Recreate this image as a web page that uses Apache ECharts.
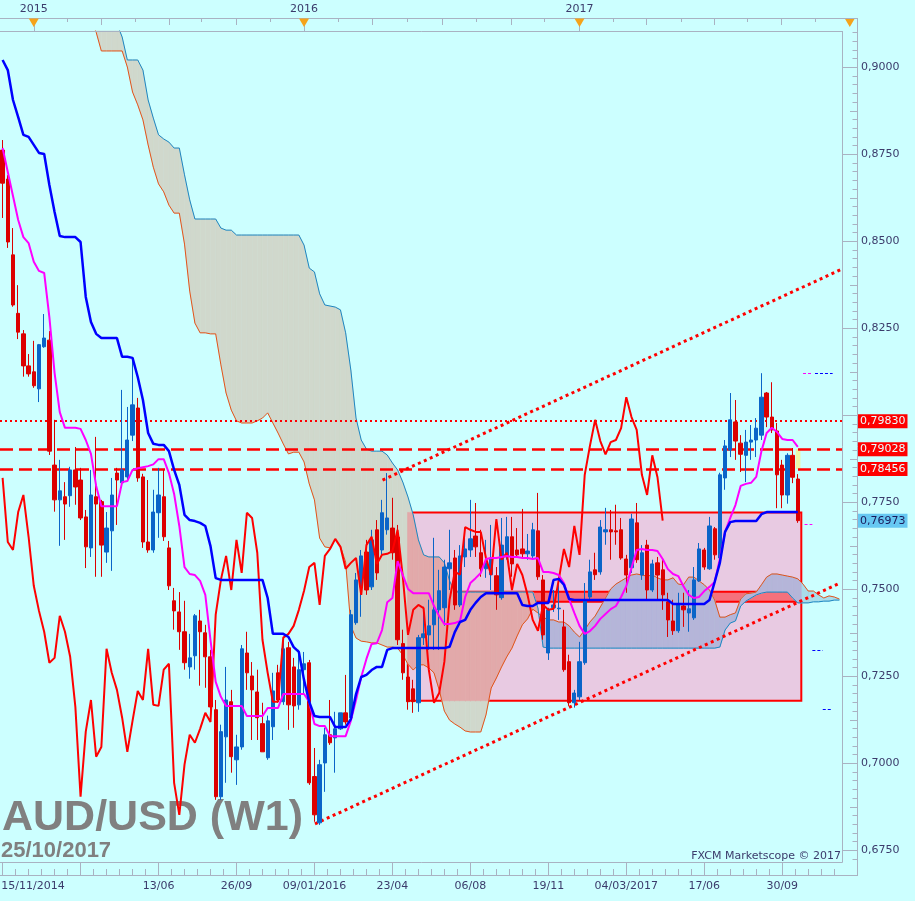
<!DOCTYPE html>
<html>
<head>
<meta charset="utf-8">
<title>AUD/USD (W1)</title>
<script src="https://cdn.jsdelivr.net/npm/echarts@6.0.0/dist/echarts.min.js"></script>
<style>
  html, body { margin: 0; padding: 0; background: #ccffff; }
  #chart { width: 915px; height: 901px; }
</style>
</head>
<body>
<div id="chart"></div>
<script>
// weekly AUD/USD bars, bar 0 = week of 15/11/2014, last bar = week of 21/10/2017
var open = [
  0.8762,0.8679,0.8461,0.8293,0.8234,0.8142,0.8125,0.8076,0.8197,0.8216,
  0.7857,0.7757,0.7766,0.7769,0.7843,0.7814,0.7708,0.7619,0.7766,0.7752,
  0.7607,0.7668,0.7834,0.7806,0.7823,0.7943,0.8021,0.7823,0.7636,0.7613,
  0.7720,0.7766,0.7619,0.7467,0.7435,0.7378,0.7277,0.7309,0.7409,0.7375,
  0.7306,0.7154,0.6904,0.7076,0.7177,0.7010,0.7047,0.7317,0.7251,0.7205,
  0.7114,0.7016,0.7105,0.7260,0.7177,0.7332,0.7277,0.7168,0.7269,0.7289,
  0.6962,0.6829,0.7001,0.7082,0.7073,0.7099,0.7145,0.7131,0.7404,0.7507,
  0.7607,0.7507,0.7671,0.7613,0.7671,0.7676,0.7650,0.7344,0.7248,0.7214,
  0.7174,0.7361,0.7369,0.7398,0.7441,0.7447,0.7559,0.7590,0.7455,0.7593,
  0.7613,0.7653,0.7605,0.7559,0.7542,0.7539,0.7476,0.7593,0.7651,0.7613,
  0.7616,0.7602,0.7596,0.7668,0.7527,0.7317,0.7447,0.7444,0.7392,0.7292,
  0.7174,0.7191,0.7289,0.7478,0.7556,0.7550,0.7665,0.7671,0.7668,0.7671,
  0.7587,0.7562,0.7691,0.7541,0.7627,0.7498,0.7576,0.7556,0.7464,0.7409,
  0.7381,0.7452,0.7432,0.7418,0.7524,0.7613,0.7559,0.7674,0.7590,0.7820,
  0.7900,0.7981,0.7920,0.7885,0.7923,0.7929,0.7943,0.8064,0.7995,0.7955,
  0.7857,0.7771,0.7885,0.7817
];
var high = [
  0.8791,0.8690,0.8538,0.8374,0.8245,0.8176,0.8214,0.8205,0.8291,0.8242,
  0.7987,0.7872,0.7808,0.7852,0.7909,0.7849,0.7728,0.7843,0.7938,0.7757,
  0.7722,0.7820,0.7849,0.8073,0.8024,0.8165,0.8050,0.7832,0.7814,0.7786,
  0.7849,0.7843,0.7639,0.7504,0.7492,0.7467,0.7372,0.7429,0.7441,0.7398,
  0.7326,0.7182,0.7111,0.7277,0.7211,0.7082,0.7340,0.7378,0.7291,0.7269,
  0.7174,0.7137,0.7260,0.7283,0.7355,0.7349,0.7303,0.7326,0.7320,0.7297,
  0.7044,0.7010,0.7102,0.7182,0.7148,0.7145,0.7254,0.7441,0.7547,0.7613,
  0.7642,0.7671,0.7699,0.7757,0.7834,0.7763,0.7685,0.7384,0.7283,0.7240,
  0.7369,0.7450,0.7470,0.7648,0.7556,0.7585,0.7671,0.7613,0.7627,0.7676,
  0.7757,0.7748,0.7671,0.7642,0.7685,0.7564,0.7705,0.7708,0.7708,0.7676,
  0.7731,0.7659,0.7691,0.7777,0.7541,0.7447,0.7498,0.7527,0.7441,0.7312,
  0.7211,0.7349,0.7518,0.7585,0.7605,0.7699,0.7734,0.7728,0.7743,0.7705,
  0.7599,0.7717,0.7748,0.7627,0.7642,0.7585,0.7593,0.7587,0.7490,0.7470,
  0.7490,0.7490,0.7498,0.7564,0.7633,0.7619,0.7708,0.7679,0.7835,0.7929,
  0.8064,0.8044,0.7943,0.7958,0.7972,0.7992,0.8121,0.8067,0.8095,0.7978,
  0.7872,0.7891,0.7906,0.7831
];
var low = [
  0.8567,0.8481,0.8312,0.8219,0.8111,0.8111,0.8079,0.8038,0.8194,0.7886,
  0.7723,0.7625,0.7642,0.7737,0.7743,0.7699,0.7561,0.7593,0.7536,0.7536,
  0.7576,0.7553,0.7685,0.7792,0.7814,0.7926,0.7809,0.7619,0.7605,0.7605,
  0.7648,0.7639,0.7498,0.7384,0.7326,0.7269,0.7243,0.7269,0.7223,0.7217,
  0.7148,0.6895,0.6895,0.6944,0.6973,0.6938,0.7039,0.7211,0.7067,0.7067,
  0.7033,0.7010,0.7067,0.7174,0.7168,0.7096,0.7102,0.7154,0.7202,0.6938,
  0.6832,0.6823,0.6918,0.7053,0.6973,0.7096,0.7111,0.7119,0.7398,0.7421,
  0.7484,0.7498,0.7527,0.7599,0.7657,0.7585,0.7340,0.7240,0.7154,0.7145,
  0.7148,0.7340,0.7326,0.7326,0.7326,0.7395,0.7498,0.7441,0.7449,0.7564,
  0.7593,0.7593,0.7536,0.7533,0.7498,0.7441,0.7470,0.7585,0.7536,0.7593,
  0.7590,0.7585,0.7590,0.7527,0.7355,0.7297,0.7435,0.7412,0.7263,0.7165,
  0.7160,0.7182,0.7283,0.7470,0.7527,0.7542,0.7628,0.7585,0.7628,0.7585,
  0.7490,0.7547,0.7576,0.7527,0.7470,0.7492,0.7470,0.7441,0.7363,0.7369,
  0.7375,0.7392,0.7378,0.7412,0.7521,0.7556,0.7556,0.7585,0.7585,0.7786,
  0.7880,0.7872,0.7837,0.7808,0.7872,0.7880,0.7929,0.7966,0.7949,0.7733,
  0.7733,0.7746,0.7805,0.7691
];
var close = [
  0.8667,0.8498,0.8317,0.8239,0.8142,0.8119,0.8085,0.8203,0.8222,0.7897,
  0.7757,0.7783,0.7745,0.7843,0.7794,0.7705,0.7622,0.7771,0.7745,0.7627,
  0.7676,0.7771,0.7814,0.7843,0.7929,0.8030,0.7820,0.7636,0.7613,0.7722,
  0.7771,0.7651,0.7510,0.7438,0.7378,0.7289,0.7303,0.7424,0.7378,0.7306,
  0.7162,0.6904,0.7091,0.7182,0.7019,0.7047,0.7329,0.7260,0.7211,0.7131,
  0.7033,0.7122,0.7208,0.7182,0.7329,0.7168,0.7165,0.7269,0.7286,0.6944,
  0.6852,0.6996,0.7082,0.7059,0.7099,0.7145,0.7119,0.7427,0.7527,0.7596,
  0.7498,0.7642,0.7547,0.7720,0.7705,0.7605,0.7355,0.7260,0.7177,0.7177,
  0.7361,0.7372,0.7395,0.7441,0.7496,0.7564,0.7576,0.7455,0.7596,0.7616,
  0.7645,0.7622,0.7559,0.7576,0.7590,0.7484,0.7627,0.7651,0.7573,0.7599,
  0.7602,0.7610,0.7671,0.7536,0.7369,0.7441,0.7455,0.7446,0.7269,0.7174,
  0.7202,0.7292,0.7470,0.7550,0.7542,0.7679,0.7671,0.7665,0.7665,0.7590,
  0.7541,0.7702,0.7585,0.7605,0.7498,0.7573,0.7541,0.7484,0.7412,0.7381,
  0.7455,0.7441,0.7444,0.7527,0.7616,0.7564,0.7682,0.7599,0.7829,0.7912,
  0.7987,0.7926,0.7888,0.7923,0.7929,0.7963,0.8052,0.7995,0.7958,0.7829,
  0.7771,0.7885,0.7822,0.76973
];

// ichimoku lines as drawn on the chart
var tenkan = [
  0.8768,0.8699,0.8630,0.8561,0.8512,0.8495,0.8441,0.8415,0.8409,0.8282,
  0.8122,0.8009,0.7964,0.7964,0.7964,0.7961,0.7929,0.7889,0.7797,0.7739,
  0.7739,0.7739,0.7739,0.7808,0.7811,0.7843,0.7848,0.7851,0.7854,0.7859,
  0.7874,0.7874,0.7834,0.7774,0.7682,0.7564,0.7544,0.7541,0.7524,0.7484,
  0.7354,0.7234,0.7191,0.7165,0.7165,0.7165,0.7165,0.7136,0.7136,0.7136,
  0.7136,0.7159,0.7159,0.7159,0.7199,0.7199,0.7199,0.7199,0.7199,0.7176,
  0.7113,0.7107,0.7107,0.7078,0.7078,0.7078,0.7078,0.7122,0.7182,0.7248,
  0.7300,0.7343,0.7345,0.7383,0.7463,0.7475,0.7581,0.7541,0.7501,0.7489,
  0.7489,0.7489,0.7489,0.7452,0.7423,0.7400,0.7400,0.7403,0.7409,0.7478,
  0.7518,0.7532,0.7547,0.7587,0.7590,0.7590,0.7593,0.7596,0.7593,0.7593,
  0.7590,0.7590,0.7587,0.7590,0.7550,0.7550,0.7547,0.7541,0.7518,0.7472,
  0.7432,0.7395,0.7372,0.7380,0.7395,0.7415,0.7429,0.7443,0.7452,0.7478,
  0.7509,0.7561,0.7613,0.7616,0.7613,0.7613,0.7610,0.7587,0.7558,0.7544,
  0.7538,0.7509,0.7484,0.7475,0.7478,0.7495,0.7507,0.7521,0.7587,0.7665,
  0.7705,0.7742,0.7797,0.7803,0.7806,0.7823,0.7897,0.7949,0.7964,0.7952,
  0.7932,0.7929,0.7929,0.7909
];
var kijun = [
  0.9021,0.8992,0.8906,0.8857,0.8806,0.8800,0.8777,0.8754,0.8751,0.8662,
  0.8584,0.8515,0.8512,0.8512,0.8512,0.8498,0.8340,0.8268,0.8234,0.8222,
  0.8222,0.8222,0.8222,0.8168,0.8168,0.8165,0.8110,0.8044,0.7949,0.7918,
  0.7915,0.7915,0.7897,0.7843,0.7800,0.7714,0.7699,0.7696,0.7691,0.7682,
  0.7624,0.7532,0.7527,0.7527,0.7527,0.7527,0.7527,0.7527,0.7527,0.7527,
  0.7527,0.7475,0.7372,0.7372,0.7372,0.7363,0.7334,0.7320,0.7239,0.7176,
  0.7136,0.7133,0.7133,0.7133,0.7104,0.7104,0.7104,0.7127,0.7199,0.7248,
  0.7254,0.7268,0.7277,0.7277,0.7326,0.7331,0.7331,0.7331,0.7331,0.7331,
  0.7331,0.7331,0.7331,0.7331,0.7331,0.7331,0.7335,0.7377,0.7406,0.7412,
  0.7441,0.7461,0.7478,0.7489,0.7489,0.7489,0.7489,0.7489,0.7489,0.7489,
  0.7455,0.7452,0.7452,0.7461,0.7461,0.7461,0.7527,0.7530,0.7513,0.7472,
  0.7469,0.7469,0.7469,0.7469,0.7469,0.7469,0.7469,0.7469,0.7469,0.7469,
  0.7469,0.7469,0.7469,0.7469,0.7469,0.7469,0.7469,0.7469,0.7469,0.7458,
  0.7458,0.7458,0.7458,0.7458,0.7458,0.7458,0.7469,0.7521,0.7576,0.7665,
  0.7693,0.7696,0.7696,0.7696,0.7696,0.7696,0.7716,0.7722,0.7722,0.7722,
  0.7722,0.7722,0.7722,0.7722
];
// senkou spans start at bar 17 and run 8 weeks past the last bar (first values sit above the frame)
var spanStart = 17;
var spanA = [
  0.9135,0.9101,0.9047,0.9047,0.9047,0.9047,0.9047,0.9001,0.8929,0.8892,
  0.8849,0.8777,0.8713,0.8665,0.8642,0.8604,0.8581,0.8581,0.8492,0.8357,
  0.8265,0.8237,0.8237,0.8234,0.8234,0.8145,0.8064,0.8015,0.7984,0.7978,
  0.7978,0.7978,0.7984,0.7992,0.8007,0.7978,0.7949,0.7918,0.7889,0.7894,
  0.7894,0.7866,0.7803,0.7757,0.7647,0.7622,0.7619,0.7642,0.7624,0.7578,
  0.7395,0.7360,0.7351,0.7349,0.7346,0.7346,0.7340,0.7334,0.7334,0.7331,
  0.7311,0.7285,0.7268,0.7283,0.7283,0.7274,0.7260,0.7211,0.7150,0.7124,
  0.7113,0.7104,0.7093,0.7090,0.7090,0.7090,0.7139,0.7216,0.7245,0.7277,
  0.7306,0.7331,0.7366,0.7398,0.7415,0.7443,0.7432,0.7420,0.7412,0.7412,
  0.7406,0.7406,0.7395,0.7377,0.7363,0.7383,0.7406,0.7423,0.7449,0.7475,
  0.7501,0.7515,0.7524,0.7533,0.7541,0.7544,0.7541,0.7538,0.7541,0.7533,
  0.7527,0.7527,0.7533,0.7515,0.7513,0.7535,0.7535,0.7524,0.7513,0.7498,
  0.7469,0.7420,0.7420,0.7427,0.7432,0.7472,0.7487,0.7489,0.7492,0.7513,
  0.7535,0.7544,0.7544,0.7541,0.7538,0.7535,0.7530,0.7515,0.7495,0.7495,
  0.7484,0.7475,0.7481,0.7478,0.7472
];
var spanB = [
  0.9300,0.9260,0.9220,0.9190,0.9160,0.9125,0.9087,0.9021,0.9021,0.9021,
  0.8992,0.8906,0.8854,0.8806,0.8794,0.8785,0.8768,0.8768,0.8691,0.8619,
  0.8564,0.8564,0.8564,0.8564,0.8564,0.8538,0.8532,0.8532,0.8518,0.8518,
  0.8518,0.8518,0.8518,0.8518,0.8518,0.8518,0.8518,0.8518,0.8518,0.8518,
  0.8518,0.8489,0.8423,0.8412,0.8349,0.8317,0.8314,0.8311,0.8303,0.8237,
  0.8130,0.7992,0.7929,0.7903,0.7897,0.7897,0.7897,0.7886,0.7863,0.7843,
  0.7808,0.7765,0.7714,0.7642,0.7599,0.7593,0.7593,0.7593,0.7576,0.7524,
  0.7492,0.7492,0.7492,0.7492,0.7492,0.7492,0.7492,0.7492,0.7492,0.7492,
  0.7492,0.7492,0.7492,0.7492,0.7492,0.7492,0.7446,0.7334,0.7331,0.7331,
  0.7331,0.7331,0.7331,0.7331,0.7331,0.7331,0.7331,0.7331,0.7331,0.7331,
  0.7331,0.7331,0.7331,0.7331,0.7331,0.7331,0.7331,0.7331,0.7331,0.7331,
  0.7331,0.7331,0.7331,0.7331,0.7331,0.7331,0.7331,0.7331,0.7331,0.7331,
  0.7331,0.7334,0.7383,0.7403,0.7409,0.7452,0.7466,0.7475,0.7484,0.7489,
  0.7492,0.7492,0.7492,0.7492,0.7492,0.7475,0.7461,0.7461,0.7461,0.7464,
  0.7464,0.7466,0.7466,0.7469,0.7469
];
var chikouShift = 26;
var futureWeeks = 8;

// drawn levels and annotations (x in bar index, y in price)
var levels = [0.79830, 0.79028, 0.78456];
var channelUp = [[73.1, 0.7814], [161.2, 0.8418]];
var channelDown = [[60.1, 0.6826], [160.7, 0.7515]];
var zoneX = [77.96, 153.67], zoneY = [0.7721, 0.7180];
var bandX = [77.96, 154.9], bandY = [0.7493, 0.7464];
var barMarkX = [152.6, 153.5], barMarkY = [0.7903, 0.7846];
var projMagenta = [[154.0, 155.9, 0.8122], [154.3, 155.8, 0.7686]];
var projBlue = [[156.3, 159.7, 0.8122], [155.8, 157.8, 0.7326], [157.8, 159.7, 0.7156]];

// axis ticks and labels (the 0,8000 label sits under the level tag, so only its tick is drawn)
var priceTicks = [0.675, 0.700, 0.725, 0.750, 0.775, 0.800, 0.825, 0.850, 0.875, 0.900];
var priceLabels = [0.675, 0.700, 0.725, 0.750, 0.775, 0.825, 0.850, 0.875, 0.900];
var dateTicks = [0, 15, 30, 45, 60, 75, 90, 105, 120, 135, 150];
var dateLabelPos = [5.85, 30, 45, 60, 75, 90, 105, 120, 135, 150];
var dateLabels = ['15/11/2014', '13/06', '26/09', '09/01/2016', '23/04', '06/08', '19/11', '04/03/2017', '17/06', '30/09'];
var yearPos = [6.0, 58.0, 111.0, 163.0];
var yearLabels = ['2015', '2016', '2017'];
var quarterPos = [19.0, 32.0, 44.9, 71.2, 84.5, 97.8, 123.9, 137.0, 149.9];
var eighthPos = [12.4, 25.5, 38.3, 51.4, 64.5, 77.8, 91.2, 104.3, 117.4, 130.5, 143.3, 156.4];

var yMin = 0.67164, yMax = 0.91043;
var nCat = close.length + futureWeeks;
var xMin = -0.5, xMax = nCat - 0.5;
var frame = '#a9b2c2', ink = '#3b3b6b', font = 'DejaVu Sans';

function pad(n) { return n < 10 ? '0' + n : '' + n; }
function comma(v, d) { return v.toFixed(d).replace('.', ','); }
function nearest(arr, v) {
  var b = 0;
  for (var k = 1; k < arr.length; k++) if (Math.abs(arr[k] - v) < Math.abs(arr[b] - v)) b = k;
  return b;
}

var weeks = [];
for (var k = 0; k < nCat; k++) {
  var d = new Date(Date.UTC(2014, 10, 15) + k * 7 * 864e5);
  weeks.push(pad(d.getUTCDate()) + '/' + pad(d.getUTCMonth() + 1) + '/' + d.getUTCFullYear());
}
var candles = open.map(function (o, k) { return [o, close[k], low[k], high[k]]; });

function spanLine(arr) {
  var out = [];
  for (var k = 0; k < nCat; k++) {
    var j = k - spanStart;
    out.push(j >= 0 && j < arr.length ? arr[j] : null);
  }
  return out;
}
var cloudSegs = [];
for (var k = 0; k + 1 < spanA.length; k++) {
  cloudSegs.push([spanStart + k, spanA[k], spanB[k], spanA[k + 1], spanB[k + 1]]);
}

var halfTicks = [], minorTicks = [];
for (var k = 269; k <= 364; k++) {
  if (k % 10 === 0) continue;
  (k % 5 === 0 ? halfTicks : minorTicks).push(+(k * 0.0025).toFixed(4));
}
var dateMinor = [];
for (var t = 2.5; t < 161; t += 2.5) if (t % 15 !== 0) dateMinor.push(t);

// polygon clip against an axis aligned rect
function clipPoly(pts, r) {
  var out = pts;
  [[0, r.x0, 1], [0, r.x1, -1], [1, r.y0, 1], [1, r.y1, -1]].forEach(function (e) {
    var ax = e[0], lim = e[1], s = e[2], inp = out;
    out = [];
    for (var j = 0; j < inp.length; j++) {
      var p = inp[j], q = inp[(j + 1) % inp.length];
      var pin = (p[ax] - lim) * s >= 0, qin = (q[ax] - lim) * s >= 0;
      if (pin) out.push(p);
      if (pin !== qin) {
        var f = (lim - p[ax]) / (q[ax] - p[ax]);
        out.push([p[0] + (q[0] - p[0]) * f, p[1] + (q[1] - p[1]) * f]);
      }
    }
  });
  return out;
}
function gridClip(params) {
  var c = params.coordSys;
  return { x0: c.x, y0: c.y, x1: c.x + c.width, y1: c.y + c.height };
}
function zoneClip(params, api) {
  var p0 = api.coord([zoneX[0], zoneY[0]]), p1 = api.coord([zoneX[1], zoneY[1]]);
  return { x0: Math.min(p0[0], p1[0]), y0: Math.min(p0[1], p1[1]), x1: Math.max(p0[0], p1[0]), y1: Math.max(p0[1], p1[1]) };
}
function cloudRenderer(colUp, colDown, clipFn) {
  return function (params, api) {
    var i = api.value(0), a0 = api.value(1), b0 = api.value(2), a1 = api.value(3), b1 = api.value(4);
    var pa0 = api.coord([i, a0]), pb0 = api.coord([i, b0]);
    var pa1 = api.coord([i + 1, a1]), pb1 = api.coord([i + 1, b1]);
    var d0 = a0 - b0, d1 = a1 - b1, polys = [];
    if (d0 * d1 >= 0) {
      polys.push({ pts: [pa0, pa1, pb1, pb0], up: d0 + d1 > 0 });
    } else {
      var f = d0 / (d0 - d1);
      var px = [pa0[0] + (pa1[0] - pa0[0]) * f, pa0[1] + (pa1[1] - pa0[1]) * f];
      polys.push({ pts: [pa0, px, pb0], up: d0 > 0 });
      polys.push({ pts: [px, pa1, pb1], up: d1 > 0 });
    }
    var r = clipFn(params, api), children = [];
    polys.forEach(function (p) {
      var c = clipPoly(p.pts, r);
      if (c.length > 2) {
        var col = p.up ? colUp : colDown;
        children.push({ type: 'polygon', shape: { points: c }, style: { fill: col, stroke: col, lineWidth: 0.6 } });
      }
    });
    return { type: 'group', children: children };
  };
}

function tag(v, bg, fg) {
  return {
    show: true, position: 'end', distance: 16, formatter: comma(v, 5),
    backgroundColor: bg, color: fg, padding: [2, 2, 1, 2],
    fontFamily: font, fontSize: 11
  };
}
var lastClose = close[close.length - 1];
var markLines = [
  { yAxis: levels[0], lineStyle: { type: [2, 3], width: 2 }, label: tag(levels[0], '#ff0000', '#e8ffff') },
  { yAxis: levels[1], lineStyle: { type: [13, 6], width: 2.5 }, label: tag(levels[1], '#ff0000', '#e8ffff') },
  { yAxis: levels[2], lineStyle: { type: [13, 6], width: 2.5 }, label: tag(levels[2], '#ff0000', '#e8ffff') },
  { yAxis: lastClose, lineStyle: { color: 'rgba(0,0,0,0)', width: 1 }, label: tag(lastClose, '#66c8f2', '#1a1a5a') },
  [{ coord: channelUp[0], lineStyle: { type: [3, 3.5], width: 3 } }, { coord: channelUp[1] }],
  [{ coord: channelDown[0], lineStyle: { type: [3, 3.5], width: 3 } }, { coord: channelDown[1] }]
];
projMagenta.forEach(function (p) {
  markLines.push([{ coord: [p[0], p[2]], lineStyle: { color: '#ff00ff', type: [3, 2], width: 1 } }, { coord: [p[1], p[2]] }]);
});
projBlue.forEach(function (p) {
  markLines.push([{ coord: [p[0], p[2]], lineStyle: { color: '#0000ff', type: [3, 2], width: 1 } }, { coord: [p[1], p[2]] }]);
});

function xValueAxis(pos, tickVals, len, labels) {
  return {
    type: 'value', min: xMin, max: xMax, position: pos, offset: 13,
    axisLine: { show: !!labels, onZero: false, lineStyle: { color: frame, width: 1 } },
    axisTick: { show: true, inside: true, length: len, customValues: tickVals, lineStyle: { color: frame, width: 1 } },
    axisLabel: labels || { show: false },
    splitLine: { show: false }
  };
}
function yValueAxis(tickVals, len, labels) {
  return {
    type: 'value', min: yMin, max: yMax, position: 'right', offset: 15,
    axisLine: { show: !!labels, onZero: false, lineStyle: { color: frame, width: 1 } },
    axisTick: { show: true, inside: true, length: len, customValues: tickVals, lineStyle: { color: frame, width: 1 } },
    axisLabel: labels || { show: false },
    splitLine: { show: false }
  };
}
function plainLine(name, data, color, width, z) {
  return {
    name: name, type: 'line', xAxisIndex: 0, yAxisIndex: 0, data: data, z: z,
    symbol: 'none', showSymbol: false, silent: true, connectNulls: false,
    lineStyle: { color: color, width: width }
  };
}

var chart = echarts.init(document.getElementById('chart'), null, { width: 915, height: 901 });
chart.setOption({
  animation: false,
  backgroundColor: '#ccffff',
  grid: { left: 0, top: 31, width: 842, height: 831, containLabel: false, outerBoundsMode: 'none' },
  xAxis: [
    { type: 'category', data: weeks, boundaryGap: true, show: false },
    xValueAxis('bottom', dateTicks, 13, {
      customValues: dateLabelPos, margin: 6, color: ink, fontFamily: font, fontSize: 11,
      formatter: function (v) { return dateLabels[nearest(dateLabelPos, v)]; }
    }),
    xValueAxis('bottom', dateMinor, 6, null),
    xValueAxis('top', eighthPos, 4, {
      customValues: yearPos.slice(0, 3), margin: 3, color: ink, fontFamily: font, fontSize: 11,
      formatter: function (v) { return yearLabels[nearest(yearPos, v)]; }
    }),
    xValueAxis('top', quarterPos, 7, null),
    xValueAxis('top', yearPos.slice(0, 3), 13, null)
  ],
  yAxis: [
    yValueAxis(priceTicks, 15, {
      customValues: priceLabels, margin: 4, color: ink, fontFamily: font, fontSize: 11,
      formatter: function (v) { return comma(v, 4); }
    }),
    yValueAxis(halfTicks, 7, null),
    yValueAxis(minorTicks, 4.5, null)
  ],
  graphic: [
    { type: 'text', z: 1, silent: true, x: 2, y: 818, style: { text: 'AUD/USD (W1)', font: 'bold 43px "Liberation Sans", Arial, sans-serif', fill: '#808080', verticalAlign: 'middle', textVerticalAlign: 'middle' } },
    { type: 'text', z: 1, silent: true, x: 1, y: 851, style: { text: '25/10/2017', font: 'bold 22px "Liberation Sans", Arial, sans-serif', fill: '#808080', verticalAlign: 'middle', textVerticalAlign: 'middle' } },
    { type: 'text', z: 1, silent: true, x: 841, y: 856, style: { text: 'FXCM Marketscope \u00a9 2017', font: '11px "DejaVu Sans", sans-serif', fill: ink, align: 'right', textAlign: 'right', verticalAlign: 'middle', textVerticalAlign: 'middle' } },
    { type: 'line', z: 100, silent: true, shape: { x1: 0, y1: 31.5, x2: 842.5, y2: 31.5 }, style: { stroke: frame, lineWidth: 1 } },
    { type: 'line', z: 100, silent: true, shape: { x1: 842.5, y1: 31, x2: 842.5, y2: 862.5 }, style: { stroke: frame, lineWidth: 1 } },
    { type: 'line', z: 100, silent: true, shape: { x1: 0, y1: 862.5, x2: 842.5, y2: 862.5 }, style: { stroke: frame, lineWidth: 1 } },
    { type: 'line', z: 100, silent: true, shape: { x1: 842, y1: 18.5, x2: 857.5, y2: 18.5 }, style: { stroke: frame, lineWidth: 1 } },
    { type: 'line', z: 100, silent: true, shape: { x1: 842, y1: 875.5, x2: 857.5, y2: 875.5 }, style: { stroke: frame, lineWidth: 1 } },
    { type: 'line', z: 100, silent: true, shape: { x1: 857.5, y1: 18, x2: 857.5, y2: 31 }, style: { stroke: frame, lineWidth: 1 } },
    { type: 'line', z: 100, silent: true, shape: { x1: 857.5, y1: 862, x2: 857.5, y2: 876 }, style: { stroke: frame, lineWidth: 1 } }
  ],
  series: [
    {
      name: 'zone', type: 'line', xAxisIndex: 1, yAxisIndex: 0, data: [], z: 1, silent: true,
      markArea: {
        silent: true,
        data: [
          [{ coord: [zoneX[0], zoneY[0]], itemStyle: { color: '#e8cae2' } }, { coord: [zoneX[1], zoneY[1]] }],
          [{ coord: [barMarkX[0], barMarkY[0]], itemStyle: { color: '#eef6a8' } }, { coord: [barMarkX[1], barMarkY[1]] }]
        ]
      }
    },
    {
      name: 'cloud', type: 'custom', xAxisIndex: 1, yAxisIndex: 0, z: 2, silent: true,
      dimensions: ['i', 'a0', 'b0', 'a1', 'b1'], encode: { x: 0, y: 1 },
      data: cloudSegs, renderItem: cloudRenderer('#a9dcea', '#d0d8cc', gridClip)
    },
    {
      name: 'cloudZone', type: 'custom', xAxisIndex: 1, yAxisIndex: 0, z: 3, silent: true,
      dimensions: ['i', 'a0', 'b0', 'a1', 'b1'], encode: { x: 0, y: 1 },
      data: cloudSegs, renderItem: cloudRenderer('#b5b5d9', '#e2a9aa', zoneClip)
    },
    plainLine('Senkou A', spanLine(spanA), '#e2531a', 1, 4),
    plainLine('Senkou B', spanLine(spanB), '#1c86c2', 1, 4),
    {
      name: 'zoneBorder', type: 'line', xAxisIndex: 1, yAxisIndex: 0, data: [], z: 5, silent: true,
      markArea: {
        silent: true,
        data: [
          [{ coord: [bandX[0], bandY[0]], itemStyle: { color: 'rgba(255,40,40,0.55)', borderColor: '#ff0000', borderWidth: 2 } }, { coord: [bandX[1], bandY[1]] }],
          [{ coord: [zoneX[0], zoneY[0]], itemStyle: { color: 'rgba(0,0,0,0)', borderColor: '#ff0000', borderWidth: 2 } }, { coord: [zoneX[1], zoneY[1]] }]
        ]
      }
    },
    {
      name: 'AUD/USD', type: 'candlestick', xAxisIndex: 0, yAxisIndex: 0, data: candles, z: 6,
      barWidth: 3.8, silent: true,
      itemStyle: { color: '#0a64c8', color0: '#dc0000', borderColor: '#0a64c8', borderColor0: '#dc0000', borderWidth: 1 }
    },
    plainLine('Chikou', close.slice(chikouShift), '#ff0000', 2, 7),
    plainLine('Tenkan', tenkan, '#ff00ff', 2, 7),
    plainLine('Kijun', kijun, '#0000ff', 2.5, 7),
    {
      name: 'levels', type: 'line', xAxisIndex: 1, yAxisIndex: 0, data: [], z: 8, silent: true,
      markLine: {
        silent: true, symbol: ['none', 'none'], precision: 5,
        lineStyle: { color: '#ff0000' },
        label: { show: false },
        data: markLines
      }
    },
    {
      name: 'years', type: 'custom', xAxisIndex: 3, yAxisIndex: 0, z: 9, silent: true,
      data: yearPos.map(function (v) { return [v, yMax]; }), encode: { x: 0, y: 1 },
      renderItem: function (params, api) {
        var x = api.coord([api.value(0), yMax])[0], top = params.coordSys.y;
        return { type: 'polygon', shape: { points: [[x - 5, top - 12.5], [x + 5, top - 12.5], [x, top - 4]] }, style: { fill: '#f5a31a' } };
      }
    }
  ]
});
</script>
</body>
</html>
